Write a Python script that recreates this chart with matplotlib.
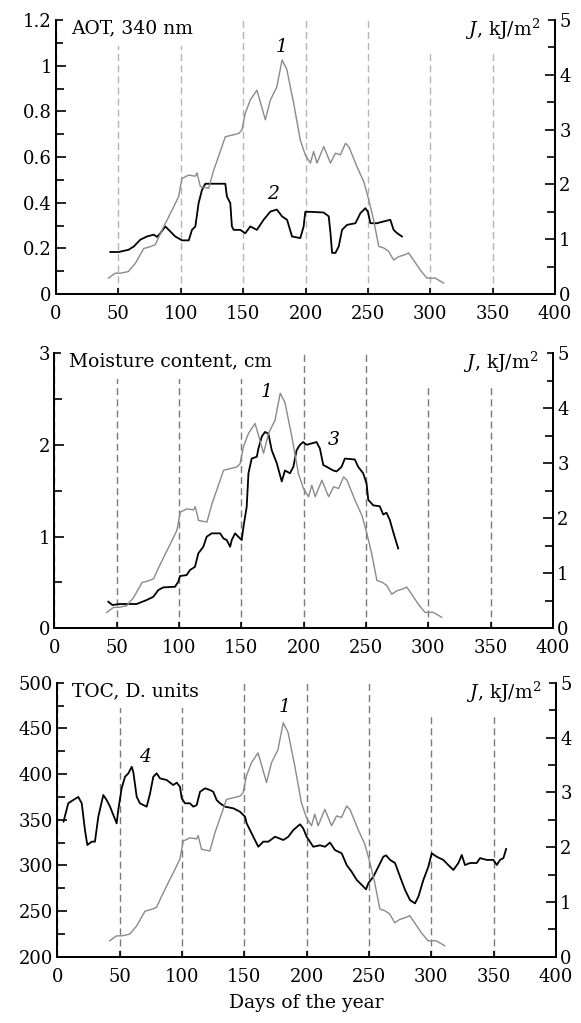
import numpy as np
import matplotlib
matplotlib.use('Agg')
import matplotlib.pyplot as plt
from matplotlib.ticker import MultipleLocator

plt.rcParams['font.family'] = ['DejaVu Serif']
plt.rcParams['mathtext.fontset'] = 'dejavuserif'

# 1. DATA
# curve 1: J, kJ/m2 (right axis, the same in all panels)
j_days = [42, 47.5, 51.5, 58, 63.6, 70.3, 75, 79.6, 83.6, 89, 94.3, 98.3, 101, 106.4,
          111.7, 113, 115.7, 122.4, 126.4, 133, 135.7, 146.4, 149, 151.7, 155.7, 161,
          163.8, 167.8, 171.8, 177, 181.2, 185, 190.5, 195.8, 199.8, 203.9, 206.5,
          209.2, 214.6, 220, 224, 228, 232, 234.7, 241.3, 246.7, 250.7, 254.6, 258.7,
          262.7, 266.6, 270.6, 274.6, 280, 282.6, 286.6, 291.9, 297.3, 304, 310.7]
j_vals = [0.29, 0.38, 0.38, 0.41, 0.56, 0.83, 0.86, 0.9, 1.1, 1.35, 1.59, 1.78, 2.11, 2.17,
          2.15, 2.21, 1.96, 1.93, 2.26, 2.69, 2.87, 2.93, 2.99, 3.3, 3.54, 3.72,
          3.5, 3.18, 3.54, 3.78, 4.27, 4.1, 3.48, 2.81, 2.54, 2.39, 2.6,
          2.39, 2.69, 2.39, 2.57, 2.54, 2.75, 2.69, 2.32, 2.05, 1.72, 1.35, 0.87,
          0.84, 0.78, 0.62, 0.68, 0.72, 0.75, 0.62, 0.44, 0.29, 0.29, 0.2]

# curve 2: AOT 340 nm
aot_days = [43.5, 50.2, 58.2, 62.3, 67.6, 72.9, 78.3, 81, 83.6, 87.6, 91.6, 95.6, 101,
            106.4, 109, 111.7, 114.3, 117, 119.7, 125, 135.7, 137, 139.7, 141, 142.4,
            147.7, 151.7, 155.7, 161, 166.4, 171.8, 177, 181.2, 185.2, 189.2, 195.8,
            198.5, 199.8, 203.9, 214.6, 218.6, 220, 221.3, 224, 226.6, 229.3, 233.3,
            240, 244, 248, 250, 252, 257.3, 262.7, 268, 270.6, 273.3, 277.3]
aot_vals = [0.184, 0.184, 0.194, 0.208, 0.238, 0.252, 0.26, 0.25, 0.266, 0.296, 0.274,
            0.252, 0.235, 0.235, 0.281, 0.296, 0.398, 0.456, 0.483, 0.483, 0.483, 0.427,
            0.398, 0.296, 0.281, 0.281, 0.266, 0.296, 0.281, 0.325, 0.361, 0.37, 0.34,
            0.325, 0.252, 0.245, 0.296, 0.36, 0.36, 0.357, 0.34, 0.267, 0.18, 0.18,
            0.208, 0.281, 0.303, 0.31, 0.354, 0.376, 0.36, 0.31, 0.31, 0.318, 0.325,
            0.281, 0.267, 0.252]

# curve 3: moisture content, cm
w_days = [43.3, 46.6, 52, 66, 74, 79.4, 83.4, 87.4, 96.8, 99.4, 100.8, 106.1, 108.8,
          112.8, 115.5, 119.5, 122.2, 126.2, 133, 135.6, 138.3, 141, 142.3, 145, 147.6,
          150.3, 151.7, 154.3, 155.7, 158.3, 162.4, 163.7, 166.4, 169, 171.7, 174.4,
          178.4, 182.4, 185, 189, 191.7, 194.3, 197, 199.6, 202.3, 210.3, 213, 215.7,
          218.4, 223.7, 226.4, 230.4, 233, 241, 243.7, 247.7, 250.4, 251.8, 255.8, 261,
          263.8, 266.4, 269.1, 271.8, 275.8]
w_vals = [0.29, 0.254, 0.265, 0.265, 0.308, 0.344, 0.417, 0.446, 0.453, 0.508, 0.57,
          0.58, 0.635, 0.67, 0.817, 0.889, 0.998, 1.035, 1.035, 0.98, 0.962, 0.889,
          0.962, 1.035, 0.998, 0.962, 1.107, 1.325, 1.69, 1.85, 1.87, 1.96, 2.09, 2.14,
          2.12, 1.94, 1.8, 1.6, 1.72, 1.69, 1.76, 1.94, 2.0, 2.03, 2.0, 2.03, 1.96, 1.78,
          1.76, 1.72, 1.71, 1.76, 1.85, 1.84, 1.76, 1.69, 1.58, 1.4, 1.34, 1.33, 1.24,
          1.26, 1.18, 1.05, 0.87]

# curve 4: TOC, D. units
toc_days = [5, 8.8, 12.8, 16.8, 19.6, 22.2, 24.1, 27.6, 30.2, 32.9, 36.9, 39.6, 42.3,
            47.6, 48.9, 51.6, 54.3, 57, 59.7, 61, 63.7, 66.3, 71.7, 74.4, 77, 79.7, 82.4,
            87.7, 93, 95.8, 98.4, 99.8, 102.4, 106.4, 109.1, 111.8, 114.5, 118.5, 122.5,
            125.1, 127.8, 130.5, 134.5, 141.2, 146.5, 150.6, 151.9, 155.9, 161.2, 165.2,
            169.3, 174.6, 181.3, 185.3, 189.3, 194.7, 197.3, 200, 205.3, 210.7, 214.7,
            218.7, 222.7, 228.1, 232.1, 236.1, 240.2, 244.2, 247.6, 249.5, 253.5, 257.5,
            261.5, 263.7, 266.9, 270.9, 274.9, 278.9, 282.9, 286.9, 289.6, 293.6, 297.6,
            300.3, 304.3, 309.6, 313.6, 317.7, 321.7, 324.4, 327, 331, 336.4, 339.1,
            344.4, 349.8, 352.5, 355.1, 357.8, 360]
toc_vals = [348, 368, 371.6, 375, 368, 338.7, 322.3, 326, 326, 353.3, 377, 371.6, 364.3,
            346, 360.6, 384.4, 397, 400.8, 408, 402, 375, 368, 364.3, 378.7, 397, 400.8,
            395.3, 393.5, 388, 390.6, 386, 373.5, 368, 368, 364.3, 366, 380.6, 384.4,
            382.5, 380.6, 371.6, 368, 364.3, 362.5, 358.8, 353.3, 346, 335, 320.4, 326,
            326, 331.4, 327.8, 331.4, 338.7, 345, 340.4, 331.4, 320.4, 322, 320.4,
            325, 316.8, 313.2, 300.4, 293, 284, 278.6, 273.8, 280.5, 287.6, 298.5,
            309.5, 311, 306, 302.6, 287.6, 273.2, 262, 258.4, 265.7, 284, 298.5,
            313.2, 309.5, 306, 300.4, 295, 302.6, 311.4, 300.4, 302.6, 302.6, 308,
            306, 306, 300.4, 306, 308, 318]

x_ticks = [0, 50, 100, 150, 200, 250, 300, 350, 400]

GRAY = '#8a8a8a'
FS = 13        # tick labels
FS_T = 13.5    # panel titles

# 2. FIGURE
fig = plt.figure(figsize=(5.81, 10.23), dpi=100)


def panel(rect, title, days, vals, ylim, major, minor, ylabels, grid_color,
          lab_main, lab_main_pos):
    ax = fig.add_axes(rect)
    ax2 = ax.twinx()

    ax.set_xlim(0, 400)
    ax.set_ylim(*ylim)
    ax2.set_ylim(0, 5)

    # vertical dashed lines
    ax.set_xticks(x_ticks)
    ax.grid(axis='x', color=grid_color, linestyle=(0, (5, 3)), linewidth=1.0)

    ax.plot(days, vals, color='black', linewidth=1.3, zorder=3)
    ax2.plot(j_days, j_vals, color=GRAY, linewidth=1.0)

    ax.set_yticks(major)
    ax.set_yticklabels(ylabels)
    ax.yaxis.set_minor_locator(MultipleLocator(minor))
    ax2.set_yticks([0, 1, 2, 3, 4, 5])
    ax2.yaxis.set_minor_locator(MultipleLocator(0.5))

    for a in (ax, ax2):
        a.spines['top'].set_visible(False)
        for s in ('left', 'right', 'bottom'):
            a.spines[s].set_linewidth(1.3)
    ax.tick_params(axis='y', which='both', direction='in', left=True, right=False,
                   width=1.2, labelsize=FS, pad=3)
    ax.tick_params(axis='y', which='major', length=7)
    ax.tick_params(axis='y', which='minor', length=6)
    ax2.tick_params(axis='y', which='both', direction='in', right=True, left=False,
                    width=1.2, labelsize=FS, pad=3)
    ax2.tick_params(axis='y', which='major', length=7)
    ax2.tick_params(axis='y', which='minor', length=6)
    ax.tick_params(axis='x', which='major', direction='in', length=4, width=1.2,
                   top=False, labelsize=FS, pad=8)

    # titles with white boxes covering dashed lines
    box = dict(facecolor='white', edgecolor='none', boxstyle='square,pad=0.45')
    ax2.text(0.03, 0.97, title + ' ', transform=ax2.transAxes, ha='left', va='center',
             fontsize=FS_T, bbox=box, zorder=5)
    ax2.text(0.97, 0.965, '        $J$, kJ/m$^2$', transform=ax2.transAxes, ha='right',
             va='center', fontsize=FS_T, bbox=box, zorder=5)

    # curve numbers
    ax.text(lab_main_pos[0], lab_main_pos[1], lab_main, fontsize=FS_T,
            style='italic', ha='center', va='center')
    return ax, ax2


# Panel 1: AOT
ax, ax2 = panel([0.0964, 0.7126, 0.8589, 0.2678], 'AOT, 340 nm', aot_days, aot_vals,
                (0, 1.2), [0, 0.2, 0.4, 0.6, 0.8, 1.0, 1.2], 0.1,
                ['0', '0.2', '0.4', '0.6', '0.8', '1', '1.2'], '#b5b5b5',
                '2', (174, 0.44))
ax2.text(181, 4.5, '1', fontsize=FS_T, style='italic', ha='center', va='center')

# Panel 2: moisture
ax, ax2 = panel([0.0935, 0.3858, 0.8584, 0.2691], 'Moisture content, cm', w_days, w_vals,
                (0, 3), [0, 1, 2, 3], 0.5, ['0', '1', '2', '3'], '#7a7a7a',
                '3', (224, 2.05))
ax2.text(170, 4.3, '1', fontsize=FS_T, style='italic', ha='center', va='center')

# Panel 3: TOC
ax, ax2 = panel([0.0986, 0.0648, 0.8584, 0.2678], 'TOC, D. units', toc_days, toc_vals,
                (200, 500), [200, 250, 300, 350, 400, 450, 500], 25,
                ['200', '250', '300', '350', '400', '450', '500'], '#7a7a7a',
                '4', (70, 419))
ax2.text(182, 4.56, '1', fontsize=FS_T, style='italic', ha='center', va='center')
ax.set_xlabel('Days of the year', fontsize=FS_T, labelpad=6)

plt.savefig('out.png', dpi=100)
